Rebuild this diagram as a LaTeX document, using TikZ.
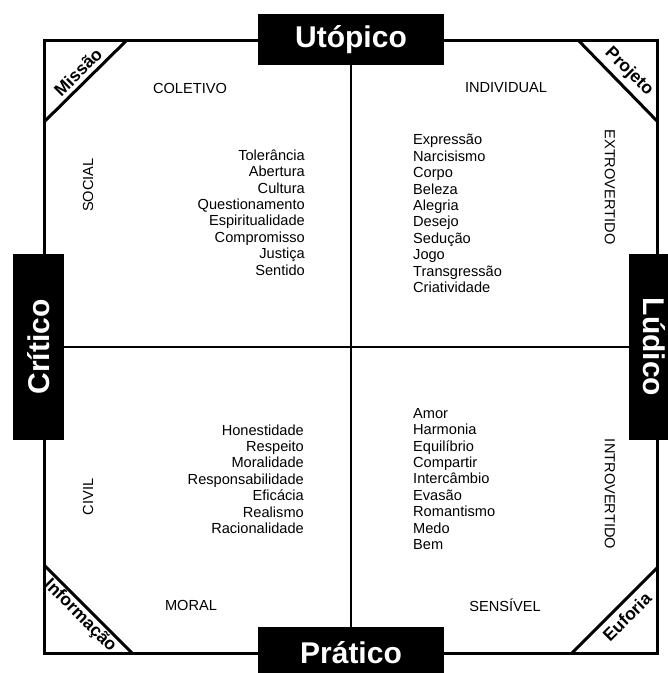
\documentclass[tikz,border=0pt]{standalone}
\usepackage{fontspec}
\setmainfont{Liberation Sans}
\begin{document}
\begin{tikzpicture}[x=1pt,y=-1pt,
  frame/.style={line width=3pt},
  axis/.style={line width=2pt},
  diag/.style={line width=3pt},
  bigbox/.style={fill=black, text=white, inner sep=0pt, font=\bfseries\fontsize{30}{36}\selectfont},
  hbox/.style={bigbox, minimum width=186pt, minimum height=51pt},
  vbox/.style={bigbox, minimum width=51pt, minimum height=186pt},
  corner/.style={inner sep=0pt, font=\bfseries\fontsize{17.5}{20}\selectfont},
  lab/.style={inner sep=0pt, font=\fontsize{14.6}{16.4}\selectfont},
  lst/.style={inner sep=0pt, font=\fontsize{14.6}{16.4}\selectfont}]
\useasboundingbox (0,0) rectangle (668,673);
\clip (0,0) rectangle (668,673);
% frame and corner cuts
\draw[frame] (44,40) rectangle (657,653);
\draw[diag] (44,122) -- (127,40);
\draw[diag] (578,40) -- (657,121);
\draw[diag] (44,565) -- (132,653);
\draw[diag] (572,653) -- (657,568);
% pole boxes
\node[hbox] (U) at (351,39.5) {Utópico};
\node[hbox] (P) at (351,652.5) {Prático};
\node[vbox] (C) at (38.5,347) {\rotatebox{90}{Crítico}};
\node[vbox] (L) at (654.5,347) {\rotatebox{-90}{Lúdico}};
% axes
\draw[axis] (U.south) -- (P.north);
\draw[axis] (C.east) -- (L.west);
% corner labels
\node[corner, rotate=45] (mi) at (78,72) {Missão};
\node[corner, rotate=-45] (pr) at (629,72) {Projeto};
\node[corner, rotate=-45] (in) at (80,616) {Informação};
\node[corner, rotate=45] (eu) at (627,617) {Euforia};
% quadrant labels
\node[lab] (col) at (190,88) {COLETIVO};
\node[lab] (ind) at (506,88) {INDIVIDUAL};
\node[lab] (mor) at (191,605) {MORAL};
\node[lab] (sen) at (505,605) {SENSÍVEL};
\node[lab, rotate=90] (soc) at (88,185) {SOCIAL};
\node[lab, rotate=90] (civ) at (88,497) {CIVIL};
\node[lab, rotate=-90] (ext) at (610,187) {EXTROVERTIDO};
\node[lab, rotate=-90] (int) at (610,494) {INTROVERTIDO};
% lists
\node[lst, anchor=east, align=right] (tl) at (305,212.5) {Tolerância\\Abertura\\Cultura\\Questionamento\\Espiritualidade\\Compromisso\\Justiça\\Sentido};
\node[lst, anchor=west, align=left] (tr) at (413,213.5) {Expressão\\Narcisismo\\Corpo\\Beleza\\Alegria\\Desejo\\Sedução\\Jogo\\Transgressão\\Criatividade};
\node[lst, anchor=east, align=right] (bl) at (304,479) {Honestidade\\Respeito\\Moralidade\\Responsabilidade\\Eficácia\\Realismo\\Racionalidade};
\node[lst, anchor=west, align=left] (br) at (413,479) {Amor\\Harmonia\\Equilíbrio\\Compartir\\Intercâmbio\\Evasão\\Romantismo\\Medo\\Bem};
\end{tikzpicture}
\end{document}
